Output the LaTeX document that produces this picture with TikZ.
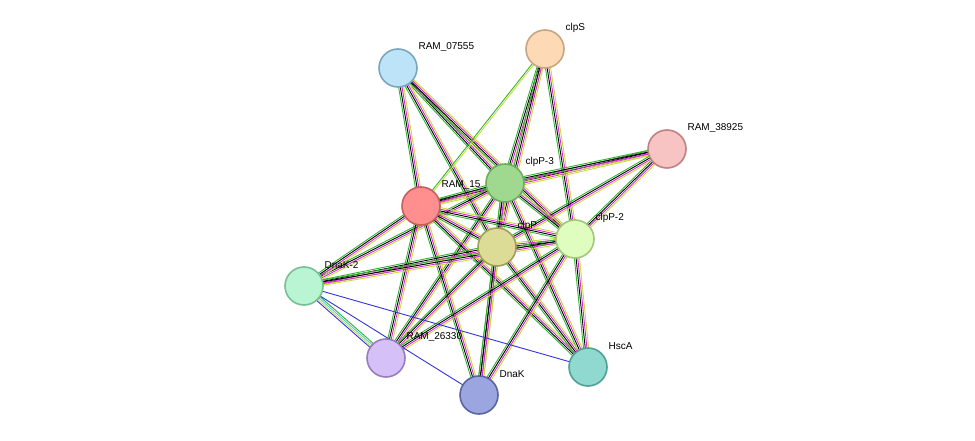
\documentclass[tikz,border=0pt]{standalone}
\usepackage{fontspec}
\setmainfont{Liberation Sans}
\usetikzlibrary{calc}
\pgfdeclarelayer{bg}
\pgfsetlayers{bg,main}
\definecolor{eg}{HTML}{33B233}
\definecolor{em}{HTML}{D42AD4}
\definecolor{ey}{HTML}{C8DC3C}
\definecolor{eb}{HTML}{3333DD}
\definecolor{ec}{HTML}{55C8E8}
\newcommand{\nodesize}{19pt}
% #1,#2 end nodes, #3 number of lines, #4 colours
\newcommand{\link}[4]{%
  \foreach \c [count=\k] in {#4} {
    \pgfmathsetmacro{\o}{(\k-(#3+1)/2)*1.7}
    \draw[\c, line width=.9pt] ($(#1)!\o pt!90:(#2)$) -- ($(#2)!\o pt!-90:(#1)$);
  }}
\begin{document}
\begin{tikzpicture}[x=1pt,y=-1pt,
    prot/.style={draw, circle, line width=1.6pt, minimum size=2*\nodesize, inner sep=0pt},
    lab/.style={anchor=west, font=\fontsize{10}{12}\selectfont}]
  \useasboundingbox (0,0) rectangle (975,441);
  % labels first, nodes may cover them
  \foreach \x/\y/\t in {398/68/RAM\_07555, 545/49/clpS, 667/149/RAM\_38925,
      505/183/clpP-3, 421/206/RAM\_15, 497/247/clpP, 575/239/clpP-2,
      304/286/DnaK-2, 386/358/RAM\_26330, 479/395/DnaK, 588/367/HscA}
    \node[lab] (l\x) at (\x+17,\y-21) {\t};
  \node (r07555) at (398,68)  [prot, fill={rgb,255:red,189;green,227;blue,248}, draw={rgb,255:red,122;green,166;blue,194}] {};
  \node (clps)   at (545,49)  [prot, fill={rgb,255:red,253;green,217;blue,181}, draw={rgb,255:red,200;green,165;blue,130}] {};
  \node (r38925) at (667,149) [prot, fill={rgb,255:red,247;green,195;blue,195}, draw={rgb,255:red,190;green,130;blue,130}] {};
  \node (rp15)   at (421,206) [prot, fill={rgb,255:red,255;green,143;blue,143}, draw={rgb,255:red,198;green,94;blue,94}] {};
  \node (clpp3)  at (505,183) [prot, fill={rgb,255:red,159;green,217;blue,143}, draw={rgb,255:red,110;green,170;blue,95}] {};
  \node (clpp2)  at (575,239) [prot, fill={rgb,255:red,224;green,253;blue,192}, draw={rgb,255:red,160;green,200;blue,120}] {};
  \node (clpp)   at (497,247) [prot, fill={rgb,255:red,220;green,220;blue,150}, draw={rgb,255:red,160;green,160;blue,90}] {};
  \node (dnak2)  at (304,286) [prot, fill={rgb,255:red,185;green,245;blue,211}, draw={rgb,255:red,120;green,190;blue,150}] {};
  \node (r26330) at (386,358) [prot, fill={rgb,255:red,213;green,193;blue,247}, draw={rgb,255:red,150;green,125;blue,190}] {};
  \node (dnak)   at (479,395) [prot, fill={rgb,255:red,155;green,166;blue,224}, draw={rgb,255:red,90;green,100;blue,160}] {};
  \node (hsca)   at (588,367) [prot, fill={rgb,255:red,143;green,217;blue,208}, draw={rgb,255:red,80;green,160;blue,150}] {};
  \begin{pgfonlayer}{bg}
    \foreach \a/\b in {r07555/rp15, r07555/clpp3, r07555/clpp, r07555/clpp2,
        clps/clpp3, clps/clpp, clps/clpp2, r38925/rp15, r38925/clpp3, r38925/clpp, r38925/clpp2,
        clpp3/rp15, clpp3/clpp, clpp3/clpp2, clpp3/dnak2, clpp3/r26330, clpp3/dnak, clpp3/hsca,
        rp15/clpp, rp15/clpp2, rp15/dnak2, rp15/r26330, rp15/dnak, rp15/hsca,
        clpp/clpp2, clpp/dnak2, clpp/r26330, clpp/dnak, clpp/hsca,
        clpp2/dnak2, clpp2/r26330, clpp2/dnak, clpp2/hsca}
      \link{\a}{\b}{4}{eg,black,em,ey};
    \link{clps}{rp15}{2}{eg,ey}
    \link{dnak2}{r26330}{4}{eb,ey,ec,eg}
    \link{dnak2}{dnak}{1}{eb}
    \link{dnak2}{hsca}{1}{eb}
  \end{pgfonlayer}
\end{tikzpicture}
\end{document}
